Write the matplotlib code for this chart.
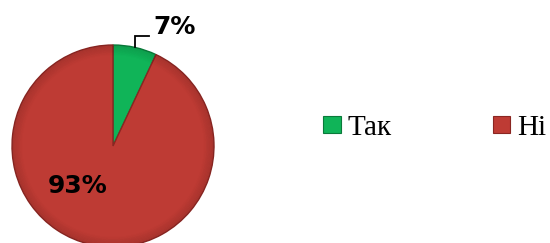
import matplotlib.pyplot as plt
from matplotlib.patches import Patch, Circle

# data
labels = ["Так", "Ні"]
values = [7, 93]
colors = ["#10B458", "#BE3B34"]
edges = ["#0A7A3A", "#8A2622"]

fig = plt.figure(figsize=(5.5, 2.43), dpi=100)
ax = fig.add_axes([0, 0, 1, 1])

center = (113, 97)
radius = 101
wedges, _ = ax.pie(values, colors=colors, startangle=90, counterclock=False,
                   center=center, radius=radius,
                   wedgeprops=dict(linewidth=1.0, edgecolor="#E8B0A8"))
for w, ec in zip(wedges, edges):
    w.set_edgecolor(ec)
    w.set_linewidth(1.0)

# soft darkening toward the rim (bevel look)
for i in range(8):
    ax.add_patch(Circle(center, radius - 1 - i * 1.2, fill=False,
                        edgecolor="black", linewidth=1.4, alpha=0.07 * (8 - i) / 8))

ax.set_xlim(0, 550)
ax.set_ylim(0, 243)
ax.set_aspect("equal")
ax.axis("off")

# percentage labels
ax.text(153, 216, f"{values[0]}%", fontsize=18, fontweight="bold",
        ha="left", va="center", color="black")
ax.text(78, 57, f"{values[1]}%", fontsize=18, fontweight="bold",
        ha="center", va="center", color="black")
# leader line for the small slice
ax.plot([135, 135, 149], [196, 207, 207], color="black", lw=1.3,
        solid_joinstyle="miter")

handles = [Patch(facecolor=c, edgecolor=e, linewidth=0.8) for c, e in zip(colors, edges)]
fig.legend(handles, labels, loc="center left", bbox_to_anchor=(323 / 550, 1 - 128 / 243),
           ncol=2, frameon=False, prop={"family": "Liberation Serif", "size": 21},
           handlelength=0.6, handleheight=0.55, handletextpad=0.25,
           columnspacing=3.45, borderpad=0, borderaxespad=0)

plt.savefig("out.png", dpi=100)
